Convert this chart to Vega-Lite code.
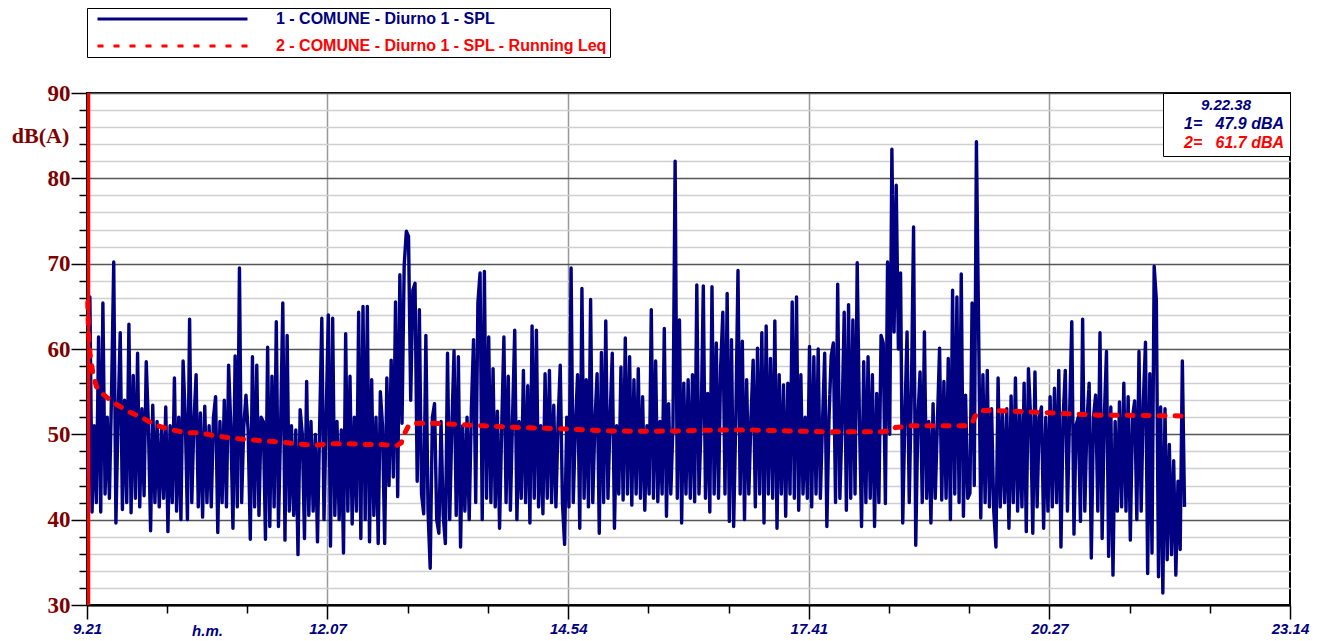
{
"$schema": "https://vega.github.io/schema/vega-lite/v6.json",
"width": 1203, "height": 512,
"autosize": {"type": "none"},
"padding": {"left": 87, "top": 93, "right": 29, "bottom": 36},
"background": "white",
"config": {"view": {"stroke": "#000000", "strokeWidth": 2}},
"resolve": {"axis": {"x": "independent", "y": "independent"}},
"datasets": {
"spl": [
{"t":562,"dB":45},{"t":563.5,"dB":66.1},{"t":565,"dB":40.9},{"t":566.5,"dB":51},{"t":568,"dB":42},{"t":569.5,"dB":61.4},{"t":571,"dB":40.9},{"t":572.5,"dB":65.4},{"t":574,"dB":43},{"t":575.5,"dB":52},
{"t":577,"dB":42.5},{"t":578.5,"dB":55},{"t":580,"dB":70.2},{"t":581.5,"dB":39.6},{"t":583,"dB":52},{"t":584.5,"dB":61.9},{"t":586,"dB":41.2},{"t":587.5,"dB":54},{"t":589,"dB":42},{"t":590.5,"dB":62.9},
{"t":592,"dB":40.8},{"t":593.5,"dB":56.9},{"t":595,"dB":42.5},{"t":596.5,"dB":59.5},{"t":598,"dB":41.5},{"t":599.5,"dB":53},{"t":601,"dB":42.8},{"t":602.5,"dB":58.5},{"t":604,"dB":51},{"t":605.5,"dB":38.7},
{"t":607,"dB":53.4},{"t":608.5,"dB":42},{"t":610,"dB":51.5},{"t":611.5,"dB":41.5},{"t":613,"dB":50.5},{"t":614.5,"dB":42.5},{"t":616,"dB":53.2},{"t":617.5,"dB":38.6},{"t":619,"dB":51},{"t":620.5,"dB":42},
{"t":622,"dB":56.6},{"t":623.5,"dB":41},{"t":625,"dB":52},{"t":626.5,"dB":40},{"t":628,"dB":58.6},{"t":629.5,"dB":52},{"t":631,"dB":40},{"t":632.5,"dB":63.5},{"t":634,"dB":42},{"t":635.5,"dB":51.5},
{"t":637,"dB":57},{"t":638.5,"dB":41.5},{"t":640,"dB":52.5},{"t":641.5,"dB":40.3},{"t":643,"dB":53.3},{"t":644.5,"dB":42},{"t":646,"dB":51},{"t":647.5,"dB":41.5},{"t":649,"dB":52},{"t":650.5,"dB":54.4},
{"t":652,"dB":38.5},{"t":653.5,"dB":51.5},{"t":655,"dB":42},{"t":656.5,"dB":54},{"t":658,"dB":41.5},{"t":659.5,"dB":58.1},{"t":661,"dB":51},{"t":662.5,"dB":39},{"t":664,"dB":59.2},{"t":665.5,"dB":41.5},
{"t":667,"dB":69.5},{"t":668.5,"dB":42},{"t":670,"dB":51},{"t":671.5,"dB":54.6},{"t":673,"dB":50.5},{"t":674.5,"dB":37.7},{"t":676,"dB":59.1},{"t":677.5,"dB":41.5},{"t":679,"dB":58.1},{"t":680.5,"dB":40.5},
{"t":682,"dB":52},{"t":683.5,"dB":51.5},{"t":685,"dB":37.7},{"t":686.5,"dB":60.2},{"t":688,"dB":39.2},{"t":689.5,"dB":56.8},{"t":691,"dB":41.5},{"t":692.5,"dB":63.2},{"t":694,"dB":39.2},{"t":695.5,"dB":51},
{"t":697,"dB":65.4},{"t":698.5,"dB":37.6},{"t":700,"dB":61.6},{"t":701.5,"dB":41},{"t":703,"dB":51},{"t":704.5,"dB":40.5},{"t":706,"dB":50.5},{"t":707.5,"dB":35.9},{"t":709,"dB":52.9},{"t":710.5,"dB":50},
{"t":712,"dB":37.8},{"t":713.5,"dB":56.2},{"t":715,"dB":40.5},{"t":716.5,"dB":51.5},{"t":718,"dB":41},{"t":719.5,"dB":50},{"t":721,"dB":37.4},{"t":722.5,"dB":51},{"t":724,"dB":63.6},{"t":725.5,"dB":40},
{"t":727,"dB":52},{"t":728.5,"dB":64},{"t":730,"dB":36.9},{"t":731.5,"dB":63.6},{"t":733,"dB":40.5},{"t":734.5,"dB":51.5},{"t":736,"dB":40},{"t":737.5,"dB":50.5},{"t":739,"dB":36.1},{"t":740.5,"dB":61.8},
{"t":742,"dB":41},{"t":743.5,"dB":56.8},{"t":745,"dB":39.5},{"t":746.5,"dB":52},{"t":748,"dB":41},{"t":749.5,"dB":64.3},{"t":751,"dB":37.8},{"t":752.5,"dB":65},{"t":754,"dB":40},{"t":755.5,"dB":65},
{"t":757,"dB":37.4},{"t":758.5,"dB":56.4},{"t":760,"dB":40.5},{"t":761.5,"dB":52},{"t":763,"dB":37.2},{"t":764.5,"dB":55},{"t":766,"dB":51},{"t":767.5,"dB":37.2},{"t":769,"dB":56.6},{"t":770.5,"dB":44},
{"t":772,"dB":58.7},{"t":773.5,"dB":45},{"t":775,"dB":65.5},{"t":776.5,"dB":42.7},{"t":778,"dB":68.7},{"t":779.5,"dB":51.3},{"t":781,"dB":69.8},{"t":782.5,"dB":73.8},{"t":784,"dB":73.2},{"t":785.5,"dB":54},
{"t":787,"dB":66.9},{"t":788.5,"dB":67.7},{"t":790,"dB":44.5},{"t":791.5,"dB":64.6},{"t":793,"dB":43},{"t":794.5,"dB":40.7},{"t":796,"dB":61.6},{"t":797.5,"dB":41},{"t":799,"dB":34.3},{"t":800.5,"dB":52},
{"t":802,"dB":53.6},{"t":803.5,"dB":40},{"t":805,"dB":38.4},{"t":806.5,"dB":51.5},{"t":808,"dB":40.5},{"t":809.5,"dB":37.2},{"t":811,"dB":59.5},{"t":812.5,"dB":40},{"t":814,"dB":51},{"t":815.5,"dB":59.8},
{"t":817,"dB":40.5},{"t":818.5,"dB":59.1},{"t":820,"dB":36.8},{"t":821.5,"dB":51},{"t":823,"dB":41},{"t":824.5,"dB":52},{"t":826,"dB":40},{"t":827.5,"dB":53},{"t":829,"dB":61.1},{"t":830.5,"dB":42},
{"t":832,"dB":65.4},{"t":833.5,"dB":68.9},{"t":835,"dB":40},{"t":836.5,"dB":69.1},{"t":838,"dB":42.5},{"t":839.5,"dB":61.4},{"t":841,"dB":42},{"t":842.5,"dB":57.7},{"t":844,"dB":41.5},{"t":845.5,"dB":52.7},
{"t":847,"dB":39},{"t":848.5,"dB":51},{"t":850,"dB":61.4},{"t":851.5,"dB":42},{"t":853,"dB":56.8},{"t":854.5,"dB":41.1},{"t":856,"dB":52},{"t":857.5,"dB":62.2},{"t":859,"dB":40},{"t":860.5,"dB":51.5},
{"t":862,"dB":42.5},{"t":863.5,"dB":57.5},{"t":865,"dB":42},{"t":866.5,"dB":55.7},{"t":868,"dB":39.6},{"t":869.5,"dB":62.7},{"t":871,"dB":42.5},{"t":872.5,"dB":62.2},{"t":874,"dB":41.5},{"t":875.5,"dB":51},
{"t":877,"dB":40.7},{"t":878.5,"dB":57.1},{"t":880,"dB":42.5},{"t":881.5,"dB":57.5},{"t":883,"dB":42},{"t":884.5,"dB":53.4},{"t":886,"dB":41.5},{"t":887.5,"dB":51.5},{"t":889,"dB":58.1},{"t":890.5,"dB":42},
{"t":892,"dB":37.1},{"t":893.5,"dB":52},{"t":895,"dB":41.5},{"t":896.5,"dB":69.5},{"t":898,"dB":42},{"t":899.5,"dB":51},{"t":901,"dB":57},{"t":902.5,"dB":39},{"t":904,"dB":67.1},{"t":905.5,"dB":42.5},
{"t":907,"dB":56.4},{"t":908.5,"dB":41.5},{"t":910,"dB":65.8},{"t":911.5,"dB":42},{"t":913,"dB":51.5},{"t":914.5,"dB":57.1},{"t":916,"dB":38.4},{"t":917.5,"dB":59.6},{"t":919,"dB":42},{"t":920.5,"dB":63.3},
{"t":922,"dB":42.5},{"t":923.5,"dB":52},{"t":925,"dB":59.5},{"t":926.5,"dB":39},{"t":928,"dB":51},{"t":929.5,"dB":43},{"t":931,"dB":57.9},{"t":932.5,"dB":42.3},{"t":934,"dB":61.3},{"t":935.5,"dB":43},
{"t":937,"dB":59.1},{"t":938.5,"dB":41.7},{"t":940,"dB":56.4},{"t":941.5,"dB":43},{"t":943,"dB":57.7},{"t":944.5,"dB":42.5},{"t":946,"dB":54.4},{"t":947.5,"dB":41.1},{"t":949,"dB":51},{"t":950.5,"dB":43},
{"t":952,"dB":64.6},{"t":953.5,"dB":42.5},{"t":955,"dB":58.6},{"t":956.5,"dB":42.1},{"t":958,"dB":51.5},{"t":959.5,"dB":43},{"t":961,"dB":62.4},{"t":962.5,"dB":40.4},{"t":964,"dB":53.6},{"t":965.5,"dB":43},
{"t":967,"dB":51},{"t":968.5,"dB":82},{"t":970,"dB":42.5},{"t":971.5,"dB":63.4},{"t":973,"dB":39.6},{"t":974.5,"dB":56},{"t":976,"dB":43},{"t":977.5,"dB":56.4},{"t":979,"dB":42.5},{"t":980.5,"dB":57},
{"t":982,"dB":42.1},{"t":983.5,"dB":67.5},{"t":985,"dB":43},{"t":986.5,"dB":51.5},{"t":988,"dB":67.4},{"t":989.5,"dB":42.5},{"t":991,"dB":54.8},{"t":992.5,"dB":40.9},{"t":994,"dB":67.3},{"t":995.5,"dB":43},
{"t":997,"dB":60.7},{"t":998.5,"dB":42.5},{"t":1000,"dB":57.9},{"t":1001.5,"dB":64.3},{"t":1003,"dB":43},{"t":1004.5,"dB":66.5},{"t":1006,"dB":39.8},{"t":1007.5,"dB":61.1},{"t":1009,"dB":39.2},{"t":1010.5,"dB":52},
{"t":1012,"dB":69.2},{"t":1013.5,"dB":43},{"t":1015,"dB":60.9},{"t":1016.5,"dB":40},{"t":1018,"dB":56.4},{"t":1019.5,"dB":43},{"t":1021,"dB":52},{"t":1022.5,"dB":58.7},{"t":1024,"dB":41.5},{"t":1025.5,"dB":60.1},
{"t":1027,"dB":43},{"t":1028.5,"dB":61.9},{"t":1030,"dB":39.6},{"t":1031.5,"dB":62.7},{"t":1033,"dB":43},{"t":1034.5,"dB":58.9},{"t":1036,"dB":42.5},{"t":1037.5,"dB":63.3},{"t":1039,"dB":39},{"t":1040.5,"dB":57},
{"t":1042,"dB":43},{"t":1043.5,"dB":55.8},{"t":1045,"dB":40.4},{"t":1046.5,"dB":56},{"t":1048,"dB":43},{"t":1049.5,"dB":65.5},{"t":1051,"dB":42.5},{"t":1052.5,"dB":66.1},{"t":1054,"dB":41.1},{"t":1055.5,"dB":57},
{"t":1057,"dB":43},{"t":1058.5,"dB":52},{"t":1060,"dB":42.5},{"t":1061.5,"dB":60.3},{"t":1063,"dB":41.5},{"t":1064.5,"dB":59.1},{"t":1066,"dB":43},{"t":1067.5,"dB":60},{"t":1069,"dB":42.5},{"t":1070.5,"dB":51.5},
{"t":1072,"dB":59.5},{"t":1073.5,"dB":39.2},{"t":1075,"dB":52},{"t":1076.5,"dB":59.2},{"t":1078,"dB":60.7},{"t":1079.5,"dB":42},{"t":1081,"dB":67.6},{"t":1082.5,"dB":42.5},{"t":1084,"dB":51.5},{"t":1085.5,"dB":64.3},
{"t":1087,"dB":41.1},{"t":1088.5,"dB":65.2},{"t":1090,"dB":42.5},{"t":1091.5,"dB":63.4},{"t":1093,"dB":43},{"t":1094.5,"dB":70.1},{"t":1096,"dB":52},{"t":1097.5,"dB":39.2},{"t":1099,"dB":58.5},{"t":1100.5,"dB":42},
{"t":1102,"dB":59.1},{"t":1103.5,"dB":42.5},{"t":1105,"dB":57},{"t":1106.5,"dB":39.2},{"t":1108,"dB":54.8},{"t":1109.5,"dB":42},{"t":1111,"dB":61.6},{"t":1112.5,"dB":60.7},{"t":1114,"dB":41.9},{"t":1115.5,"dB":70.2},
{"t":1117,"dB":50},{"t":1118.5,"dB":83.4},{"t":1120,"dB":62},{"t":1121.5,"dB":79.2},{"t":1123,"dB":60},{"t":1124.5,"dB":68.9},{"t":1126,"dB":39.6},{"t":1127.5,"dB":52},{"t":1129,"dB":62},{"t":1130.5,"dB":42},
{"t":1132,"dB":55.2},{"t":1133.5,"dB":74.3},{"t":1135,"dB":37},{"t":1136.5,"dB":52},{"t":1138,"dB":57.3},{"t":1139.5,"dB":42},{"t":1141,"dB":62},{"t":1142.5,"dB":42.5},{"t":1144,"dB":51.5},{"t":1145.5,"dB":39.6},
{"t":1147,"dB":53.6},{"t":1148.5,"dB":42.5},{"t":1150,"dB":51.5},{"t":1151.5,"dB":60.1},{"t":1153,"dB":42.3},{"t":1154.5,"dB":56.2},{"t":1156,"dB":42.5},{"t":1157.5,"dB":58.9},{"t":1159,"dB":40},{"t":1160.5,"dB":66.9},
{"t":1162,"dB":43},{"t":1163.5,"dB":66.1},{"t":1165,"dB":42},{"t":1166.5,"dB":68.8},{"t":1168,"dB":40.4},{"t":1169.5,"dB":54.6},{"t":1171,"dB":42.5},{"t":1172.5,"dB":43.1},{"t":1174,"dB":65.4},{"t":1175.5,"dB":44},
{"t":1177,"dB":84.3},{"t":1178.5,"dB":62.6},{"t":1180,"dB":40.2},{"t":1181.5,"dB":57},{"t":1183,"dB":42},{"t":1184.5,"dB":57.5},{"t":1186,"dB":41.5},{"t":1187.5,"dB":53},{"t":1189,"dB":41},{"t":1190.5,"dB":36.8},
{"t":1192,"dB":56.6},{"t":1193.5,"dB":41.5},{"t":1195,"dB":52.5},{"t":1196.5,"dB":42},{"t":1198,"dB":53},{"t":1199.5,"dB":39},{"t":1201,"dB":54.5},{"t":1202.5,"dB":42},{"t":1204,"dB":56.6},{"t":1205.5,"dB":41},
{"t":1207,"dB":52.5},{"t":1208.5,"dB":41.5},{"t":1210,"dB":56},{"t":1211.5,"dB":38.6},{"t":1213,"dB":57.7},{"t":1214.5,"dB":52},{"t":1216,"dB":38.4},{"t":1217.5,"dB":57.3},{"t":1219,"dB":41.5},{"t":1220.5,"dB":52},
{"t":1222,"dB":53.2},{"t":1223.5,"dB":39},{"t":1225,"dB":52},{"t":1226.5,"dB":41},{"t":1228,"dB":54.4},{"t":1229.5,"dB":41.5},{"t":1231,"dB":55.4},{"t":1232.5,"dB":42},{"t":1234,"dB":57.5},{"t":1235.5,"dB":36.8},
{"t":1237,"dB":52},{"t":1238.5,"dB":57.5},{"t":1240,"dB":41},{"t":1241.5,"dB":52.5},{"t":1243,"dB":63.2},{"t":1244.5,"dB":38.3},{"t":1246,"dB":51.1},{"t":1247.5,"dB":52},{"t":1249,"dB":39.8},{"t":1250.5,"dB":63.5},
{"t":1252,"dB":41},{"t":1253.5,"dB":51.5},{"t":1255,"dB":56},{"t":1256.5,"dB":35.5},{"t":1258,"dB":52},{"t":1259.5,"dB":54.6},{"t":1261,"dB":41},{"t":1262.5,"dB":61.9},{"t":1264,"dB":37.8},{"t":1265.5,"dB":52},
{"t":1267,"dB":59.7},{"t":1268.5,"dB":35.7},{"t":1270,"dB":53.2},{"t":1271.5,"dB":33.5},{"t":1273,"dB":51.5},{"t":1274.5,"dB":41},{"t":1276,"dB":53.8},{"t":1277.5,"dB":41.5},{"t":1279,"dB":56},{"t":1280.5,"dB":41},
{"t":1282,"dB":54.4},{"t":1283.5,"dB":37.6},{"t":1285,"dB":52},{"t":1286.5,"dB":53.9},{"t":1288,"dB":40},{"t":1289.5,"dB":59.7},{"t":1291,"dB":41},{"t":1292.5,"dB":53.8},{"t":1294,"dB":60.8},{"t":1295.5,"dB":33.7},
{"t":1297,"dB":57.1},{"t":1298.5,"dB":36.1},{"t":1300,"dB":69.7},{"t":1301.5,"dB":65.8},{"t":1303,"dB":33.3},{"t":1304.5,"dB":53.2},{"t":1306,"dB":31.4},{"t":1307.5,"dB":53},{"t":1309,"dB":35.3},{"t":1310.5,"dB":48.8},
{"t":1312,"dB":35.9},{"t":1313.5,"dB":46.9},{"t":1315,"dB":33.5},{"t":1316.5,"dB":44.5},{"t":1318,"dB":36.5},{"t":1319.5,"dB":58.6},{"t":1321,"dB":41.5}
],
"leq": [
{"t":562,"dB":65.5},{"t":562.6,"dB":61.7},{"t":563.5,"dB":59.5},{"t":565.5,"dB":57.2},{"t":568,"dB":55.6},{"t":572,"dB":54.8},{"t":579,"dB":53.8},{"t":584,"dB":53.3},{"t":590.5,"dB":52.65},{"t":600,"dB":51.9},
{"t":609,"dB":51.1},{"t":618,"dB":50.6},{"t":630,"dB":50.2},{"t":639,"dB":50.2},{"t":648,"dB":49.9},{"t":660,"dB":49.6},{"t":671,"dB":49.4},{"t":683,"dB":49.25},{"t":695,"dB":49.1},{"t":706,"dB":48.9},
{"t":718,"dB":48.7},{"t":730,"dB":48.9},{"t":742,"dB":48.9},{"t":753,"dB":48.8},{"t":765,"dB":48.8},{"t":776,"dB":48.7},{"t":779,"dB":49.0},{"t":781,"dB":50.0},{"t":784,"dB":51.0},{"t":788,"dB":51.3},
{"t":800,"dB":51.3},{"t":812,"dB":51.2},{"t":824.5,"dB":51.1},{"t":836,"dB":51.0},{"t":860,"dB":50.8},{"t":897,"dB":50.6},{"t":923,"dB":50.4},{"t":947,"dB":50.35},{"t":971,"dB":50.4},{"t":995,"dB":50.5},
{"t":1022,"dB":50.5},{"t":1047,"dB":50.4},{"t":1072,"dB":50.3},{"t":1110,"dB":50.3},{"t":1118,"dB":50.4},{"t":1121,"dB":50.8},{"t":1132,"dB":51.0},{"t":1170,"dB":51.0},{"t":1174,"dB":51.3},{"t":1176,"dB":52.1},
{"t":1179.5,"dB":52.8},{"t":1186,"dB":52.8},{"t":1200,"dB":52.7},{"t":1211,"dB":52.65},{"t":1236,"dB":52.45},{"t":1262,"dB":52.25},{"t":1300,"dB":52.2},{"t":1320,"dB":52.15}
],
"cursore": [
{"t":562.63,"dB":47.9,"lettura":"1=\u00a0\u00a0\u00a047.9 dBA"},
{"t":562.63,"dB":61.7,"lettura":"2=\u00a0\u00a0\u00a061.7 dBA"}
]
},
"layer": [
{
"data": {"name": "spl"},
"mark": {"type": "line", "strokeWidth": 3.4, "strokeJoin": "round"},
"encoding": {
"x": {"field": "t", "type": "quantitative",
 "scale": {"domain": [561.5, 1394], "nice": false, "zero": false},
 "axis": {
  "orient": "bottom", "values": [617, 672.4, 783.4, 839, 950, 1005.5, 1116.5, 1172, 1283, 1338.5], "tickCount": 100,
  "labels": false, "domain": false, "grid": false, "title": null,
  "tickColor": "#000000", "tickWidth": 1.5, "tickSize": 8
 }},
"y": {"field": "dB", "type": "quantitative",
 "scale": {"domain": [30, 90], "nice": false, "zero": false},
 "axis": {
  "orient": "left", "values": [32,34,36,38,42,44,46,48,52,54,56,58,62,64,66,68,72,74,76,78,82,84,86,88], "tickCount": 100,
  "labels": false, "domain": false, "title": null,
  "tickColor": "#000000", "tickWidth": 1.5, "tickSize": 8,
  "grid": true, "gridColor": "#d0d0d0", "gridWidth": 1.5
 }},
"color": {"datum": "1 - COMUNE - Diurno 1 - SPL",
 "scale": {"domain": ["1 - COMUNE - Diurno 1 - SPL", "2 - COMUNE - Diurno 1 - SPL - Running Leq"], "range": ["#000080", "#ff0000"]},
 "legend": {
  "orient": "none", "legendX": 0, "legendY": -85, "direction": "vertical", "title": null,
  "padding": 3, "strokeColor": "#000000", "fillColor": "#ffffff",
  "symbolType": "stroke", "symbolSize": 22500, "symbolStrokeWidth": 3, "symbolOffset": 6, "clipHeight": 16,
  "labelFont": "Liberation Sans", "labelFontSize": 16, "labelFontWeight": "bold", "labelLimit": 600, "labelOffset": 27,
  "rowPadding": 11,
  "encode": {
   "labels": {"update": {"fill": {"scale": "color", "field": "value"}}}
  }
 }},
"strokeDash": {"datum": "1 - COMUNE - Diurno 1 - SPL",
 "scale": {"domain": ["1 - COMUNE - Diurno 1 - SPL", "2 - COMUNE - Diurno 1 - SPL - Running Leq"], "range": [[1, 0], [6, 10]]}}
}
},
{
"data": {"name": "leq"},
"mark": {"type": "line", "strokeWidth": 5, "strokeCap": "round"},
"encoding": {
"x": {"field": "t", "type": "quantitative",
 "axis": {
  "orient": "bottom", "values": [561.5, 727.9, 894.5, 1061, 1227.5, 1394], "tickCount": 100,
  "labelExpr": "floor(datum.value/60) + '.' + (floor(datum.value%60) < 10 ? '0' : '') + floor(datum.value%60)",
  "title": "h.m.", "titleX": 120, "titleY": 25, "titleAlign": "center", "titleBaseline": "middle", "titleAngle": 0,
  "titleFont": "Liberation Sans", "titleFontSize": 15, "titleFontWeight": "bold", "titleFontStyle": "italic", "titleColor": "#000080",
  "labelFont": "Liberation Sans", "labelFontSize": 15, "labelFontWeight": "bold", "labelFontStyle": "italic", "labelColor": "#000080",
  "labelFlush": false, "labelOverlap": false, "labelPadding": 2,
  "tickColor": "#000000", "tickWidth": 1.5, "tickSize": 14,
  "domainColor": "#000000", "domainWidth": 2,
  "grid": true, "gridColor": "#999999", "gridWidth": 1.5,
  "gridOpacity": {"condition": {"test": "indexof([727.9,894.5,1061,1227.5], datum.value) >= 0", "value": 1}, "value": 0}
 }},
"y": {"field": "dB", "type": "quantitative",
 "axis": {
  "orient": "left", "values": [30,40,50,60,70,80,90], "tickCount": 100, "format": "d",
  "title": "dB(A)", "titleAngle": 0, "titleX": -47, "titleY": 42, "titleAlign": "center", "titleBaseline": "middle",
  "titleFont": "Liberation Serif", "titleFontSize": 22, "titleFontWeight": "bold", "titleColor": "#800000",
  "labelFont": "Liberation Serif", "labelFontSize": 23, "labelFontWeight": "bold", "labelColor": "#800000",
  "labelPadding": 1, "labelFlush": false, "labelOverlap": false,
  "tickColor": "#000000", "tickWidth": 1.5, "tickSize": 16,
  "domainColor": "#000000", "domainWidth": 2,
  "grid": true, "gridColor": "#555555", "gridWidth": 1.5
 }},
"color": {"datum": "2 - COMUNE - Diurno 1 - SPL - Running Leq"},
"strokeDash": {"datum": "2 - COMUNE - Diurno 1 - SPL - Running Leq"}
}
},
{
"data": {"name": "cursore"},
"mark": {"type": "rule", "color": "#ff0000", "strokeWidth": 3},
"encoding": {
"x": {"field": "t", "type": "quantitative", "axis": null}
}
},
{
"data": {"name": "cursore"},
"mark": {"type": "point", "opacity": 0, "filled": true},
"encoding": {
"x": {"field": "t", "type": "quantitative", "axis": null},
"y": {"field": "dB", "type": "quantitative", "axis": null},
"fill": {"field": "lettura", "type": "nominal",
 "scale": {"range": ["#000080", "#ff0000"]},
 "legend": {
  "orient": "top-right", "offset": 0,
  "title": "9.22.38", "titleAnchor": "middle", "titleFont": "Liberation Sans", "titleFontSize": 15, "titleFontWeight": "bold", "titleFontStyle": "italic", "titleColor": "#000080", "titlePadding": 3,
  "padding": 5, "strokeColor": "#000000", "fillColor": "#ffffff",
  "symbolSize": 1, "symbolOpacity": 0, "labelOffset": 0, "clipHeight": 16,
  "labelFont": "Liberation Sans", "labelFontSize": 16, "labelFontWeight": "bold", "labelFontStyle": "italic",
  "rowPadding": 3,
  "encode": {
   "labels": {"update": {"fill": {"scale": "fill", "field": "value"}}}
  }
 }}
}
}
]
}
